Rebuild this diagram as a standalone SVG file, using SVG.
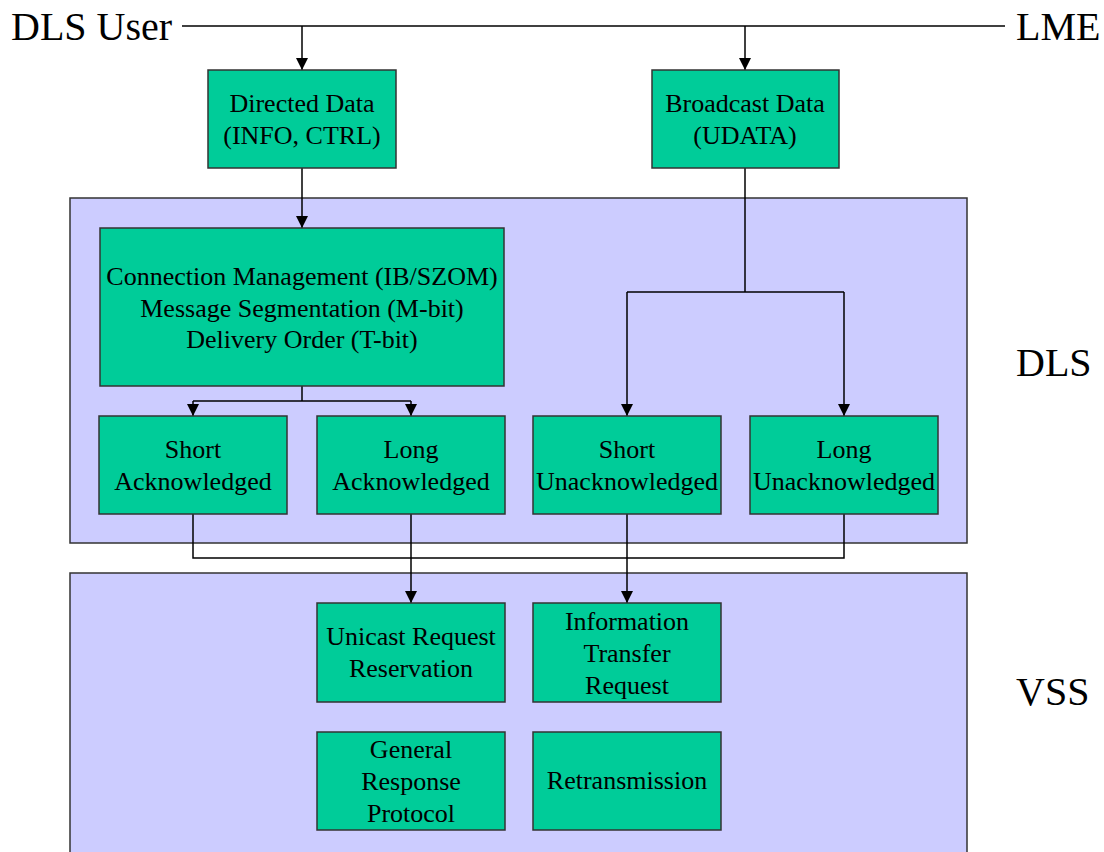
<svg xmlns="http://www.w3.org/2000/svg" width="1104" height="852" viewBox="0 0 1104 852">
<style>
.panel{fill:#CCCCFF;stroke:#333333;stroke-width:1.5}
.box{fill:#00CC99;stroke:#333333;stroke-width:1.5}
.t{font-family:"Liberation Serif","Times New Roman",serif;font-size:26px;fill:#000;text-anchor:middle}
.big{font-family:"Liberation Serif","Times New Roman",serif;font-size:40px;fill:#000}
.ln{fill:none;stroke:#000;stroke-width:1.5}
</style>
<defs>
<marker id="arr" markerUnits="userSpaceOnUse" markerWidth="12" markerHeight="14" refX="6" refY="13" orient="auto-start-reverse" viewBox="0 0 12 14">
<path d="M0,0 L12,0 L6,13 Z" fill="#000" transform="rotate(0)"/>
</marker>
<marker id="ar" markerUnits="userSpaceOnUse" markerWidth="12" markerHeight="12" refX="12" refY="6" orient="auto" viewBox="0 0 12 12">
<path d="M0,0 L12,6 L0,12 Z" fill="#000"/>
</marker>
</defs>
<g id="panel-dls"><rect class="panel" x="70" y="198" width="897" height="345"/></g>
<g id="panel-vss"><rect class="panel" x="70" y="573" width="897" height="290"/></g>
<g id="label-dls-user"><text class="big" x="11" y="40">DLS User</text></g>
<g id="label-lme"><text class="big" x="1016" y="40">LME</text></g>
<g id="label-dls"><text class="big" x="1016" y="376">DLS</text></g>
<g id="label-vss"><text class="big" x="1016" y="705">VSS</text></g>
<g id="connectors">
<line class="ln" x1="182" y1="26" x2="1005" y2="26"/>
<line class="ln" x1="302" y1="26" x2="302" y2="70" marker-end="url(#ar)"/>
<line class="ln" x1="745" y1="26" x2="745" y2="70" marker-end="url(#ar)"/>
<line class="ln" x1="302" y1="168" x2="302" y2="228" marker-end="url(#ar)"/>
<polyline class="ln" points="745,168 745,292"/>
<polyline class="ln" points="627,292 844,292"/>
<line class="ln" x1="627" y1="292" x2="627" y2="416" marker-end="url(#ar)"/>
<line class="ln" x1="844" y1="292" x2="844" y2="416" marker-end="url(#ar)"/>
<polyline class="ln" points="302,386 302,401"/>
<polyline class="ln" points="193,401 411,401"/>
<line class="ln" x1="193" y1="401" x2="193" y2="416" marker-end="url(#ar)"/>
<line class="ln" x1="411" y1="401" x2="411" y2="416" marker-end="url(#ar)"/>
<polyline class="ln" points="193,514 193,558 844,558 844,514"/>
<line class="ln" x1="411" y1="514" x2="411" y2="603" marker-end="url(#ar)"/>
<line class="ln" x1="627" y1="514" x2="627" y2="603" marker-end="url(#ar)"/>
</g>
<g id="directed-data"><rect class="box" x="208" y="70" width="188" height="98"/>
<text class="t" x="302" y="112">Directed Data</text><text class="t" x="302" y="144">(INFO, CTRL)</text></g>
<g id="broadcast-data"><rect class="box" x="652" y="70" width="187" height="98"/>
<text class="t" x="745" y="112">Broadcast Data</text><text class="t" x="745" y="144">(UDATA)</text></g>
<g id="connection-management"><rect class="box" x="100" y="228" width="404" height="158"/>
<text class="t" x="302" y="285">Connection Management (IB/SZOM)</text>
<text class="t" x="302" y="317">Message Segmentation (M-bit)</text>
<text class="t" x="302" y="348">Delivery Order (T-bit)</text></g>
<g id="short-ack"><rect class="box" x="99" y="416" width="188" height="98"/>
<text class="t" x="193" y="458">Short</text><text class="t" x="193" y="490">Acknowledged</text></g>
<g id="long-ack"><rect class="box" x="317" y="416" width="188" height="98"/>
<text class="t" x="411" y="458">Long</text><text class="t" x="411" y="490">Acknowledged</text></g>
<g id="short-unack"><rect class="box" x="533" y="416" width="188" height="98"/>
<text class="t" x="627" y="458">Short</text><text class="t" x="627" y="490">Unacknowledged</text></g>
<g id="long-unack"><rect class="box" x="750" y="416" width="188" height="98"/>
<text class="t" x="844" y="458">Long</text><text class="t" x="844" y="490">Unacknowledged</text></g>
<g id="unicast"><rect class="box" x="317" y="603" width="188" height="99"/>
<text class="t" x="411" y="645">Unicast Request</text><text class="t" x="411" y="677">Reservation</text></g>
<g id="info-transfer"><rect class="box" x="533" y="603" width="188" height="99"/>
<text class="t" x="627" y="630">Information</text><text class="t" x="627" y="662">Transfer</text><text class="t" x="627" y="694">Request</text></g>
<g id="general-response"><rect class="box" x="317" y="732" width="188" height="98"/>
<text class="t" x="411" y="758">General</text><text class="t" x="411" y="790">Response</text><text class="t" x="411" y="822">Protocol</text></g>
<g id="retransmission"><rect class="box" x="533" y="732" width="188" height="98"/>
<text class="t" x="627" y="789">Retransmission</text></g>
</svg>
